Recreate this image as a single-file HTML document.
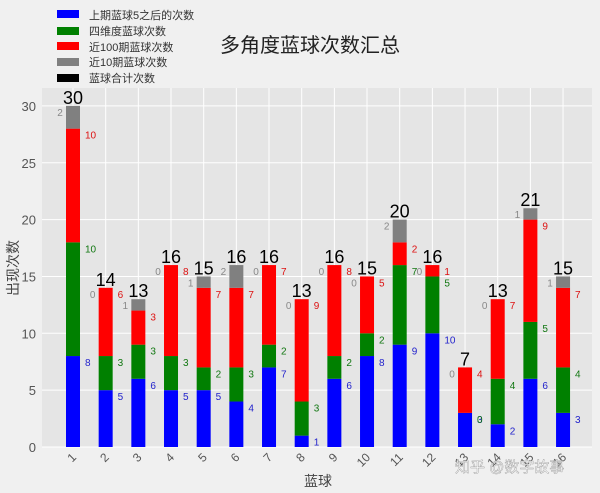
<!DOCTYPE html>
<html><head><meta charset="utf-8"><style>
body{margin:0;background:#f0f0f0;}
svg{display:block;font-family:"Liberation Sans","Noto Sans CJK SC",sans-serif;}
</style></head><body>
<svg id="chart" width="600" height="493">
<rect x="0" y="0" width="600" height="493" fill="#f0f0f0"/>
<rect x="42" y="88" width="550" height="359" fill="#e5e5e5"/>
<g id="grid"></g><g id="bars"></g><g id="labels"></g>
<text x="310" y="52" font-size="20" text-anchor="middle" fill="#222">多角度蓝球次数汇总</text>
<text x="318" y="486" font-size="14" text-anchor="middle" fill="#444">蓝球</text>
<text transform="translate(18,268) rotate(-90)" font-size="14" text-anchor="middle" fill="#444">出现次数</text>
<text x="455" y="472" font-size="15" fill="#ffffff" fill-opacity="0.85" stroke="#999" stroke-width="0.4">知乎 @数字故事</text>
<g font-size="11" fill="#333">
<g><rect x="57" y="10" width="22" height="8" fill="#0000ff"/><text x="89" y="19">上期蓝球5之后的次数</text></g>
<g><rect x="57" y="27" width="22" height="8" fill="#008000"/><text x="89" y="35">四维度蓝球次数</text></g>
<g><rect x="57" y="42" width="22" height="8" fill="#ff0000"/><text x="89" y="51">近100期蓝球次数</text></g>
<g><rect x="57" y="58" width="22" height="8" fill="#808080"/><text x="89" y="66">近10期蓝球次数</text></g>
<g><rect x="57" y="74" width="22" height="8" fill="#000"/><text x="89" y="82">蓝球合计次数</text></g>
</g>
</svg>
<script>
const categories=["1","2","3","4","5","6","7","8","9","10","11","12","13","14","15","16"];
const blueVals=[8,5,6,5,5,4,7,1,6,8,9,10,3,2,6,3];
const greenVals=[10,3,3,3,2,3,2,3,2,2,7,5,0,4,5,4];
const redVals=[10,6,3,8,7,7,7,9,8,5,2,1,4,7,9,7];
const grayVals=[2,0,1,0,1,2,0,0,0,0,2,0,0,0,1,1];
const yTicks=[0,5,10,15,20,25,30];
const NS="http://www.w3.org/2000/svg";
const x0=73,dx=32.67,bw=14,yBase=447,ppu=11.37;
const X=i=>x0+i*dx, Y=v=>yBase-v*ppu;
function mk(tag,attrs,parent,txt){const e=document.createElementNS(NS,tag);for(const k in attrs)e.setAttribute(k,attrs[k]);if(txt!==undefined)e.textContent=txt;document.getElementById(parent).appendChild(e);return e;}
yTicks.forEach(t=>{
  const l=mk('line',{x1:42,x2:592,y1:Y(t),y2:Y(t),stroke:'#fff','stroke-width':1},'grid');
  
  
  const tx=mk('text',{x:36,y:Y(t)+5,'font-size':13,'text-anchor':'end',fill:'#555'},'grid',t);
  
  
});
categories.forEach((c,i)=>{
  const l=mk('line',{x1:X(i),x2:X(i),y1:88,y2:447,stroke:'#fff','stroke-width':1},'grid');
  
  
  const tx=mk('text',{x:0,y:0,'font-size':12,'text-anchor':'end',fill:'#555',transform:`translate(${X(i)+4},${458}) rotate(-45)`},'grid',c);
  
  
});
const series=[[blueVals,'#0000ff','#2222cc','blue'],[greenVals,'#008000','#117711','green'],[redVals,'#ff0000','#dd1111','red'],[grayVals,'#808080','#888','gray']];
categories.forEach((c,i)=>{
  let cum=0;
  series.forEach(([vals,col,tcol,nm],si)=>{
    const v=vals[i];
    const top=Y(cum+v);
    if(v>0){
      const r=mk('rect',{x:X(i)-bw/2,y:top,width:bw,height:v*ppu,fill:col},'bars');
      
      
    }
    const lx=si===3?X(i)-13:X(i)+12;
    const t=mk('text',{x:lx,y:top+10,'font-size':10,'text-anchor':si===3?'middle':'start',fill:tcol},'labels',v);
    
    
    cum+=v;
  });
  const tt=mk('text',{x:X(i),y:Y(cum)-2,'font-size':18,'text-anchor':'middle',fill:'#000'},'labels',cum);
  
  
});
</script>
</body></html>
